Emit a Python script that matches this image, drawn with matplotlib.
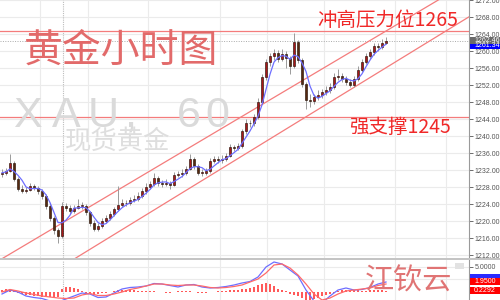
import numpy as np
import pandas as pd
import matplotlib
matplotlib.use('Agg')
import matplotlib.pyplot as plt
from matplotlib.patches import Rectangle

# hourly closes (open = previous close)
first_open = 1231.0
closes = [1231.4, 1231.8, 1233.7, 1230.0, 1227.7, 1227.2, 1227.4, 1228.3, 1227.9, 1227.2,
          1226.0, 1223.7, 1220.7, 1217.9, 1216.5, 1223.5, 1223.2, 1222.5, 1223.2, 1223.7,
          1223.7, 1222.1, 1219.7, 1218.3, 1218.8, 1220.0, 1220.7, 1221.8, 1222.8, 1223.9,
          1224.2, 1224.4, 1224.9, 1225.3, 1226.0, 1227.0, 1228.1, 1228.8, 1230.2, 1229.0,
          1228.8, 1229.0, 1228.6, 1230.9, 1231.1, 1231.4, 1232.3, 1234.6, 1233.0, 1231.4,
          1231.4, 1231.8, 1234.2, 1234.6, 1234.4, 1234.6, 1235.3, 1237.4, 1237.2, 1237.6,
          1241.1, 1243.2, 1243.0, 1244.4, 1248.1, 1253.9, 1257.4, 1258.8, 1259.5, 1258.1,
          1259.3, 1258.3, 1256.5, 1262.1, 1257.9, 1252.3, 1248.6, 1248.3, 1249.1, 1249.7,
          1250.4, 1250.9, 1251.6, 1253.9, 1254.2, 1253.5, 1252.8, 1252.1, 1253.5, 1255.6,
          1257.4, 1258.8, 1259.7, 1261.1, 1260.9, 1262.0, 1262.46]
highs = [1232.2, 1232.5, 1235.8, 1234.2, 1230.4, 1228.5, 1228.0, 1228.9, 1228.8, 1228.4,
         1227.6, 1226.4, 1224.2, 1221.2, 1218.5, 1224.5, 1224.2, 1223.8, 1223.9, 1225.3,
         1224.5, 1224.1, 1222.5, 1220.2, 1219.5, 1220.8, 1221.5, 1222.5, 1223.4, 1228.3,
         1225.2, 1225.0, 1225.6, 1226.2, 1226.8, 1227.8, 1228.9, 1229.5, 1231.4, 1230.6,
         1229.8, 1229.9, 1229.4, 1231.5, 1231.9, 1232.2, 1233.0, 1235.8, 1235.0, 1233.4,
         1232.3, 1232.6, 1234.9, 1235.4, 1235.3, 1235.5, 1236.0, 1238.1, 1238.0, 1238.4,
         1241.8, 1244.0, 1243.9, 1245.2, 1248.9, 1254.6, 1258.2, 1259.6, 1260.6, 1260.2,
         1260.4, 1260.0, 1258.9, 1264.3, 1262.6, 1258.3, 1252.8, 1249.8, 1250.0, 1250.8,
         1251.2, 1251.8, 1252.5, 1254.8, 1255.8, 1254.9, 1254.2, 1253.4, 1254.2, 1256.4,
         1258.1, 1259.6, 1260.5, 1261.9, 1261.8, 1262.9, 1263.2]
lows = [1230.5, 1230.9, 1231.5, 1229.5, 1227.0, 1226.6, 1226.7, 1227.0, 1227.3, 1226.5,
        1225.2, 1223.0, 1220.0, 1217.0, 1214.9, 1216.0, 1222.5, 1221.7, 1222.0, 1222.8,
        1222.9, 1221.5, 1219.0, 1217.6, 1217.8, 1218.4, 1219.5, 1220.2, 1221.2, 1222.4,
        1223.3, 1223.5, 1223.8, 1224.5, 1224.8, 1225.5, 1226.4, 1227.5, 1228.3, 1228.4,
        1228.0, 1228.2, 1227.7, 1228.2, 1230.3, 1230.5, 1230.8, 1232.0, 1232.4, 1230.8,
        1230.6, 1230.9, 1231.3, 1233.6, 1233.7, 1233.8, 1234.1, 1235.0, 1236.5, 1236.7,
        1237.2, 1240.6, 1242.1, 1242.5, 1244.0, 1247.6, 1253.3, 1256.6, 1258.0, 1257.4,
        1257.6, 1256.0, 1254.6, 1256.0, 1257.2, 1251.5, 1246.5, 1246.9, 1247.5, 1248.4,
        1248.9, 1249.7, 1250.2, 1251.2, 1253.3, 1252.7, 1252.1, 1251.5, 1251.6, 1253.0,
        1255.0, 1256.9, 1258.2, 1259.1, 1259.9, 1260.4, 1261.6]

# MACD panel, lines read every second bar
dif = [-0.46, 0.34, -0.06, -0.86, -1.16, -1.36, -1.86, -2.06, -1.46, -0.86,
       -0.26, -0.46, -1.16, -1.06, -0.26, 0.54, 0.84, 0.94, 1.14, 1.64,
       1.54, 1.24, 0.94, 1.34, 1.44, 0.94, 0.74, 0.84, 1.04, 1.34,
       1.74, 2.04, 2.94, 4.94, 5.94, 5.54, 4.34, 3.14, 0.34, -1.86,
       -2.26, -0.86, 0.34, 0.74, 0.34, 0.44, 0.84, 1.54, 1.94]
dea = [-0.06, 0.44, 0.14, -0.26, -0.56, -0.86, -1.06, -1.26, -1.36, -1.26,
       -0.66, -0.36, -0.76, -0.76, -0.46, -0.06, 0.44, 0.74, 1.14, 1.54,
       1.54, 1.34, 1.24, 1.34, 1.34, 1.14, 0.84, 0.74, 0.84, 1.04,
       1.34, 1.94, 2.54, 3.74, 5.34, 5.54, 4.74, 3.34, 1.54, -0.46,
       -1.66, -1.26, -0.46, 0.14, 0.34, 0.54, 0.74, 1.24, 1.54]
hist = [0.4, 0.5, 0.6, 0.4, -0.2, -0.4, -0.6, -0.7, -0.8, -0.9,
        -1.0, -1.0, -1.0, -1.1, -1.0, 0.6, 1.0, 0.9, 0.8, 0.5,
        0.2, -0.2, -0.3, -0.4, -0.4, -0.3, -0.2, -0.1, 0.2, 0.3,
        0.4, 0.4, 0.4, 0.3, 0.2, 0.2, 0.1, 0.1, 0.2, 0.0,
        -0.1, -0.2, -0.3, -0.1, 0.1, 0.1, 0.1, 0.2, 0.0, -0.2,
        -0.3, -0.2, -0.1, 0.0, 0.1, 0.1, 0.2, 0.3, 0.3, 0.4,
        0.5, 0.6, 0.8, 1.0, 1.3, 1.6, 1.7, 1.5, 1.2, 0.6,
        0.3, 0.1, -0.4, -0.6, -0.9, -1.3, -1.6, -1.7, -1.5, -1.2,
        -0.9, -0.7, -0.4, -0.2, 0.2, 0.3, 0.4, 0.4, 0.3, 0.3,
        0.2, 0.2, 0.3, 0.3, 0.3, 0.3, 0.2]

resist = 1264.6
support = 1244.6
last_price = 1262.46
ma_price = 1261.34
macd_hidden = 2.85
macd_labels = [1.95, 0.2292]
price_ticks = np.arange(1212, 1273, 4)
# channel anchors (bar index, price)
upper_chan = [(0, 1211.2), (108, 1271.4)]
lower_chan = [(18.5, 1211.4), (116.5, 1267.9)]
time_grid = [9.5, 21.5, 36.5, 54.5, 66.25, 80.5, 98.25, 111]
day_sep = 15.25

n = len(closes)
idx = np.arange(n)
c = np.array(closes)
o = np.concatenate([[first_open], c[:-1]])
h = np.array(highs)
l = np.array(lows)
ma = pd.Series(c).rolling(4, min_periods=1).mean()

W, H = 500, 300
fig = plt.figure(figsize=(5, 3), dpi=100)
fig.patch.set_facecolor('white')
XMAX = 116.75
tick_font = 'Liberation Sans'

ax = fig.add_axes([0, 42 / H, 469 / W, 258 / H])
ax.set_xlim(-0.5, XMAX)
ax.set_ylim(1211.37, 1271.37)
for v in price_ticks:
    ax.axhline(v, color='#ebebeb', lw=0.8, zorder=0)
for t in time_grid:
    ax.axvline(t, color='#ebebeb', lw=0.8, zorder=0)
ax.axvline(day_sep, color='#bdbdbd', lw=0.8, ls=(0, (1, 1)), zorder=0)

# channel & levels
for (x0, y0), (x1, y1) in [upper_chan, lower_chan]:
    s = (y1 - y0) / (x1 - x0)
    ax.plot([-5, 130], [y0 + s * (-5 - x0), y0 + s * (130 - x0)], color='#f47c7c', lw=0.9, zorder=2)
ax.axhline(resist, color='#f47c7c', lw=0.9, zorder=2)
ax.axhline(support, color='#f47c7c', lw=0.9, zorder=2)
ax.axhline(last_price, color='#aaaaaa', lw=0.7, ls=(0, (1, 1.5)), zorder=1)

# candles
ax.vlines(idx, l, h, color='#9a9a9a', lw=0.7, zorder=3)
up = c >= o
body_lo = np.minimum(o, c)
body_h = np.maximum(np.abs(c - o), 0.15)
ax.bar(idx[up], body_h[up], bottom=body_lo[up], width=0.72, color='#a8161a',
       edgecolor='#2a140a', lw=0.45, zorder=4)
ax.bar(idx[~up], body_h[~up], bottom=body_lo[~up], width=0.72, color='#55290f',
       edgecolor='#2a140a', lw=0.45, zorder=4)
ax.plot(idx, ma, color='#6e6eff', lw=0.9, zorder=5)

ax.yaxis.tick_right()
ax.set_yticks(price_ticks)
ax.set_yticklabels(['%.2f' % v for v in price_ticks], family=tick_font)
ax.tick_params(axis='y', labelsize=5, colors='#555555', length=3, width=0.6, pad=1)
ax.tick_params(axis='x', bottom=False, labelbottom=False)
for s in ['top', 'left', 'bottom']:
    ax.spines[s].set_visible(False)
ax.spines['right'].set_color('#9a9a9a')
ax.spines['right'].set_linewidth(0.8)

# MACD panel
mx = fig.add_axes([0, 0, 469 / W, 40 / H])
mx.set_xlim(-0.5, XMAX)
mx.set_ylim(-1.66, 6.34)
for t in time_grid:
    mx.axvline(t, color='#ebebeb', lw=0.8, zorder=0)
mx.axvline(day_sep, color='#bdbdbd', lw=0.8, ls=(0, (1, 1)), zorder=0)
mx.axhline(5.0, color='#ebebeb', lw=0.8, zorder=0)
mx.axhline(2.5, color='#ebebeb', lw=0.8, zorder=0)
mx.bar(idx, hist, width=0.45, color='#ff5a5a', zorder=2)
mx_idx = idx[::2]
mx.plot(mx_idx, dif, color='#6e6eff', lw=0.9, zorder=3)
mx.plot(mx_idx, dea, color='#ff6a6a', lw=0.9, zorder=3)
mx.yaxis.tick_right()
mx.set_yticks([5.0])
mx.set_yticklabels(['5.0000'], family=tick_font)
mx.tick_params(axis='y', labelsize=5, colors='#555555', length=3, width=0.6, pad=1)
mx.tick_params(axis='x', bottom=False, labelbottom=False)
for s in ['top', 'left', 'bottom']:
    mx.spines[s].set_visible(False)
mx.spines['right'].set_color('#9a9a9a')
# little window button
fig.add_artist(Rectangle((455 / W, 1 - 269 / H), 9 / W, 6 / H, transform=fig.transFigure,
                         color='#e2e2e2', lw=0))

# separator bar between panels
fig.add_artist(Rectangle((0, 1 - 260 / H), 1, 2 / H, transform=fig.transFigure,
                         color='#c4c4c4', lw=0))


def fy(y):
    return 1 - y / H


def box(ax_, val, fc, txt, tc='white'):
    yy = ax_.transData.transform((0, val))[1]
    yf = fig.transFigure.inverted().transform((0, yy))[1]
    fig.add_artist(Rectangle((470 / W, yf - 3.5 / H), 30 / W, 7 / H, transform=fig.transFigure,
                             color=fc, lw=0, zorder=10))
    if txt:
        fig.text(474 / W, yf, txt, fontsize=5, color=tc, va='center', ha='left',
                 family=tick_font, zorder=11)


box(ax, ma_price, '#0000ff', '%.2f' % ma_price)
box(ax, last_price, '#6a6a6a', '%.2f' % last_price)
box(mx, macd_hidden, '#2a2aff', '')
box(mx, macd_labels[0], '#ff0000', '%.4f' % macd_labels[0])
box(mx, macd_labels[1], '#ff0000', '%.4f' % macd_labels[1])

cjk = ['Noto Sans CJK SC', 'DejaVu Sans']
# watermark
wm_chars = ['X', 'A', 'U', ',', '6', '0']
wm_x = [27, 66, 103, 130, 189, 217]
for ch, xx in zip(wm_chars, wm_x):
    fig.text(xx / W, fy(127), ch, fontsize=31, color='#dadada', family='Liberation Sans',
             ha='center', va='baseline', zorder=1)
fig.text(118 / W, fy(141), '现货黄金', fontsize=19, color='#dedede', family=cjk,
         ha='center', va='center', zorder=1)

fig.text(121 / W, fy(51), '黄金小时图', fontsize=28, color='#e26a6a', family=cjk,
         weight='light', ha='center', va='center', zorder=12)
fig.text(388 / W, fy(20), '冲高压力位1265', fontsize=14, color='#f02828', family=cjk,
         weight='light', ha='center', va='center', zorder=12)
fig.text(400 / W, fy(127), '强支撑1245', fontsize=14, color='#f02828', family=cjk,
         weight='light', ha='center', va='center', zorder=12)
fig.text(408 / W, fy(282), '江钦云', fontsize=21, color='#e07474', family=cjk,
         weight='light', ha='center', va='center', zorder=12)

fig.savefig('out.png', dpi=100, facecolor='white')
